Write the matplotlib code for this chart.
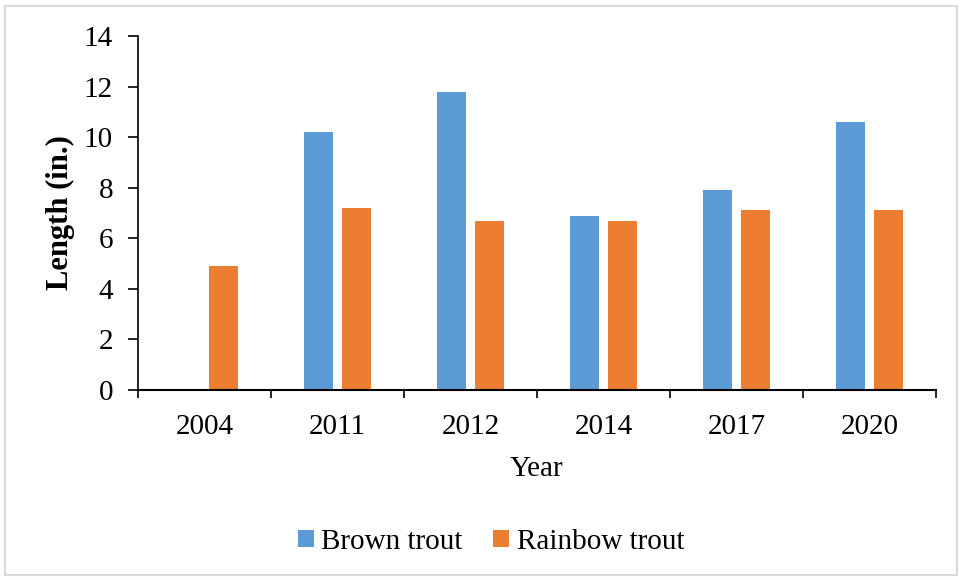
import numpy as np
from matplotlib import pyplot as plt
from matplotlib.patches import Rectangle

years = ['2004', '2011', '2012', '2014', '2017', '2020']
brown = [0, 10.2, 11.8, 6.9, 7.9, 10.6]
rainbow = [4.9, 7.2, 6.7, 6.7, 7.1, 7.1]

plt.rcParams['font.family'] = ['Liberation Serif', 'DejaVu Serif']

fig = plt.figure(figsize=(9.64, 5.8), dpi=100)
ax = fig.add_axes([138/964, 1 - 390/580, (936-138)/964, (390-36)/580])

x = np.arange(len(years))
w = 0.225
ax.bar(x - 0.143, brown, w, color='#5B9BD5', label='Brown trout')
ax.bar(x + 0.143, rainbow, w, color='#ED7D31', label='Rainbow trout')

ax.set_xlim(-0.5, len(years) - 0.5)
ax.set_ylim(0, 14)
ax.set_yticks(range(0, 15, 2))
ax.set_xticks(x)
ax.set_xticklabels(years)
ax.set_xticks(np.arange(-0.5, len(years), 1), minor=True)
ax.tick_params(axis='x', which='major', length=0, pad=17, labelsize=21)
ax.tick_params(axis='x', which='minor', length=6, width=1.2, direction='out')
ax.tick_params(axis='y', length=7, width=1.2, direction='out', labelsize=21, pad=11)

for s in ['top', 'right']:
    ax.spines[s].set_visible(False)
ax.spines['left'].set_linewidth(1.2)
ax.spines['bottom'].set_linewidth(1.5)

ax.set_xlabel('Year', fontsize=21, labelpad=12)
ax.set_ylabel('Length (in.)', fontsize=22, fontweight='bold', labelpad=6)

fig.legend(loc='center', bbox_to_anchor=(491/964, 1 - 542/580), ncol=2, frameon=False,
           fontsize=21, handlelength=0.55, handleheight=0.55, handletextpad=0.25,
           columnspacing=1.05)

fig.patches.append(Rectangle((5/964, 5/580), 952/964, 569/580, transform=fig.transFigure,
                             fill=False, edgecolor='#d9d9d9', linewidth=1.5))

fig.savefig('out.png', dpi=100)
